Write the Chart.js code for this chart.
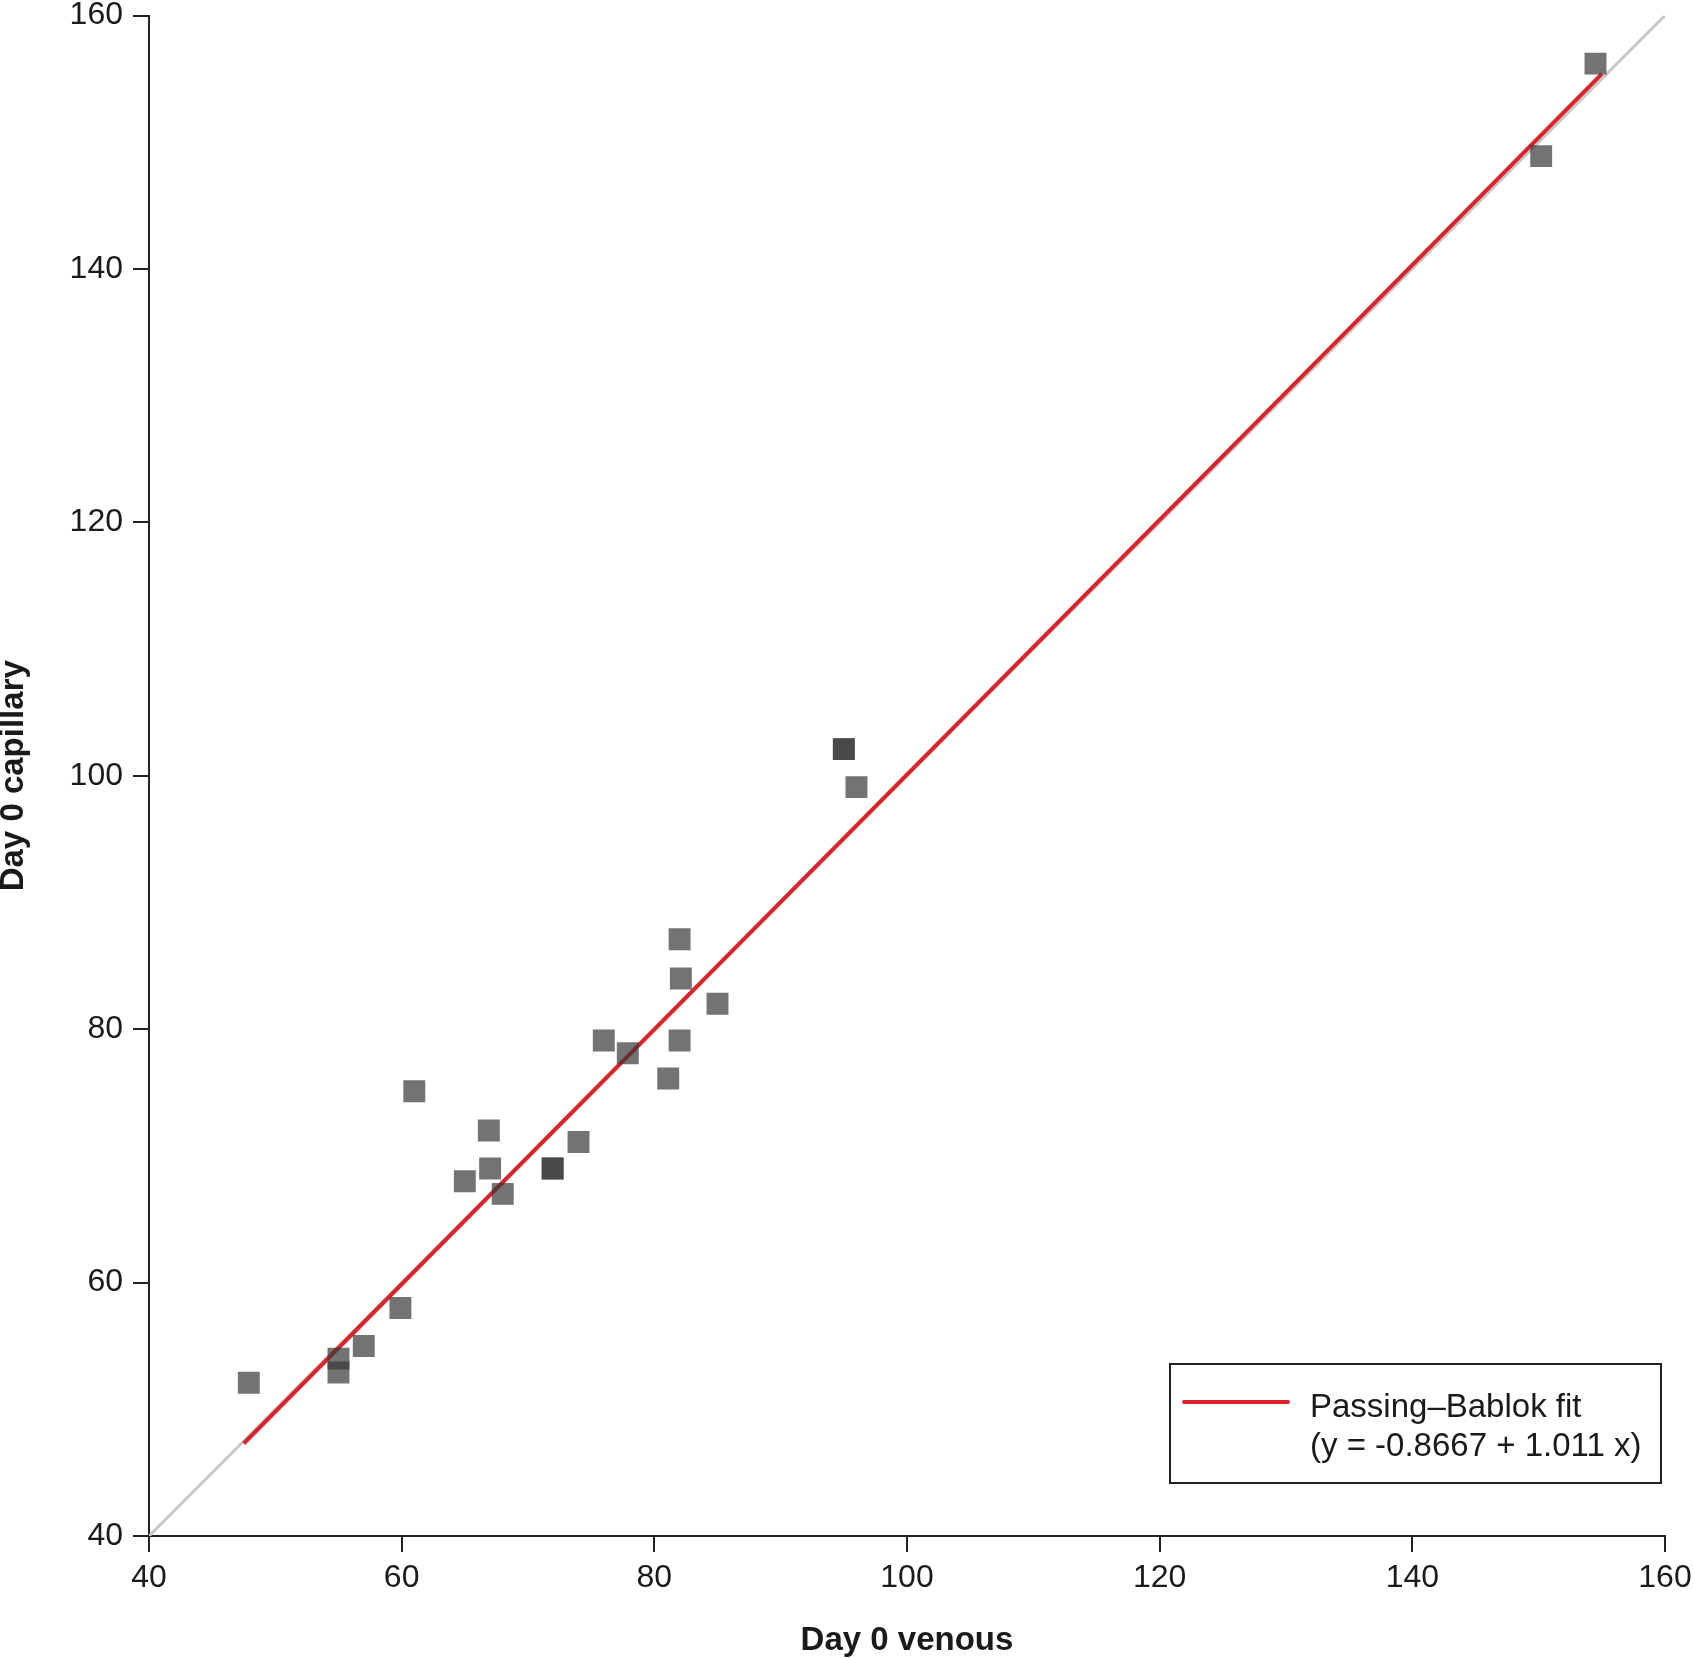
<!DOCTYPE html>
<html>
<head>
<meta charset="utf-8">
<script src="https://cdn.jsdelivr.net/npm/chart.js@4/dist/chart.umd.min.js"></script>
<style>
  html, body { margin: 0; padding: 0; background: #fff; }
  #wrap { width: 1693px; height: 1658px; }
</style>
</head>
<body>
<div id="wrap"><canvas id="c" width="1693" height="1658"></canvas></div>
<script>
// ---- data ----
const venous    = [47.9, 55.0, 55.0, 57.0, 59.9, 61.0, 65.0, 66.9, 67.0, 68.0, 71.95, 71.95, 74.0, 76.0, 77.9, 81.1, 82.0, 82.1, 82.0, 85.0, 95.0, 95.0, 96.0, 150.2, 154.5];
const capillary = [52.1, 54.0, 52.9, 55.0, 58.0, 75.1, 68.0, 72.0, 69.0, 67.0, 69.0, 69.0, 71.1, 79.1, 78.1, 76.1, 87.1, 84.0, 79.1, 82.0, 102.1, 102.1, 99.1, 148.9, 156.2];
const fitX = [47.5, 155.0];
const fitY = [47.3, 155.4];
const identityX = [40, 160];
const identityY = [40, 160];
const axisMin = 40, axisMax = 160, axisStep = 20;
const legendLines = ['Passing\u2013Bablok fit', '(y = -0.8667 + 1.011 x)'];
const xTitle = 'Day 0 venous';
const yTitle = 'Day 0 capillary';

const FONT = "'Liberation Sans', Arial, Helvetica, sans-serif";
const AXIS = '#222222';
const RED = '#d9242b';

const toPts = (xs, ys) => xs.map((x, i) => ({ x, y: ys[i] }));

const legendPlugin = {
  id: 'boxLegend',
  afterDraw(chart) {
    const ctx = chart.ctx;
    ctx.save();
    ctx.strokeStyle = AXIS;
    ctx.lineWidth = 2;
    ctx.strokeRect(1170, 1364, 491, 119);
    ctx.strokeStyle = RED;
    ctx.lineWidth = 4;
    ctx.lineCap = 'round';
    ctx.beginPath();
    ctx.moveTo(1184, 1402);
    ctx.lineTo(1288, 1402);
    ctx.stroke();
    ctx.fillStyle = '#1a1a1a';
    ctx.font = '33px ' + FONT;
    ctx.textBaseline = 'alphabetic';
    ctx.textAlign = 'left';
    ctx.fillText(legendLines[0], 1310, 1417);
    ctx.fillText(legendLines[1], 1310, 1456);
    ctx.restore();
  }
};

new Chart(document.getElementById('c'), {
  type: 'scatter',
  data: {
    datasets: [
      {
        label: 'data',
        data: toPts(venous, capillary),
        pointStyle: 'rect',
        pointRadius: 15.5,
        pointHoverRadius: 15.5,
        backgroundColor: 'rgba(55,55,55,0.7)',
        borderWidth: 0,
        order: 0
      },
      {
        label: 'fit',
        type: 'line',
        data: toPts(fitX, fitY),
        borderColor: RED,
        borderWidth: 4,
        pointRadius: 0,
        fill: false,
        order: 1
      },
      {
        label: 'identity',
        type: 'line',
        data: toPts(identityX, identityY),
        borderColor: '#c6c6c6',
        borderWidth: 3,
        pointRadius: 0,
        fill: false,
        order: 2
      }
    ]
  },
  options: {
    responsive: false,
    animation: false,
    devicePixelRatio: 1,
    layout: { padding: { top: 15, right: 28, left: 0, bottom: 0 } },
    plugins: { legend: { display: false }, tooltip: { enabled: false } },
    scales: {
      x: {
        type: 'linear', min: axisMin, max: axisMax,
        afterFit(s) { s.height = 122; s.paddingLeft = 0; s.paddingRight = 0; },
        ticks: { stepSize: axisStep, color: '#1a1a1a', font: { family: FONT, size: 32 }, padding: 7, maxRotation: 0 },
        grid: { drawOnChartArea: false, drawTicks: true, tickLength: 16, color: AXIS, lineWidth: 2 },
        border: { display: true, color: AXIS, width: 2 },
        title: { display: true, text: xTitle, color: '#1a1a1a', font: { family: FONT, size: 33, weight: 'bold', lineHeight: 1 }, padding: { top: 0, bottom: 1 } }
      },
      y: {
        type: 'linear', min: axisMin, max: axisMax,
        afterFit(s) { s.width = 149; s.paddingTop = 0; s.paddingBottom = 0; },
        ticks: { stepSize: axisStep, color: '#1a1a1a', font: { family: FONT, size: 32 }, padding: 10 },
        grid: { drawOnChartArea: false, drawTicks: true, tickLength: 16, color: AXIS, lineWidth: 2 },
        border: { display: true, color: AXIS, width: 2 },
        title: { display: true, text: yTitle, color: '#1a1a1a', font: { family: FONT, size: 33, weight: 'bold', lineHeight: 1 }, padding: { top: -3, bottom: 0 } }
      }
    }
  },
  plugins: [legendPlugin]
});
</script>
</body>
</html>
